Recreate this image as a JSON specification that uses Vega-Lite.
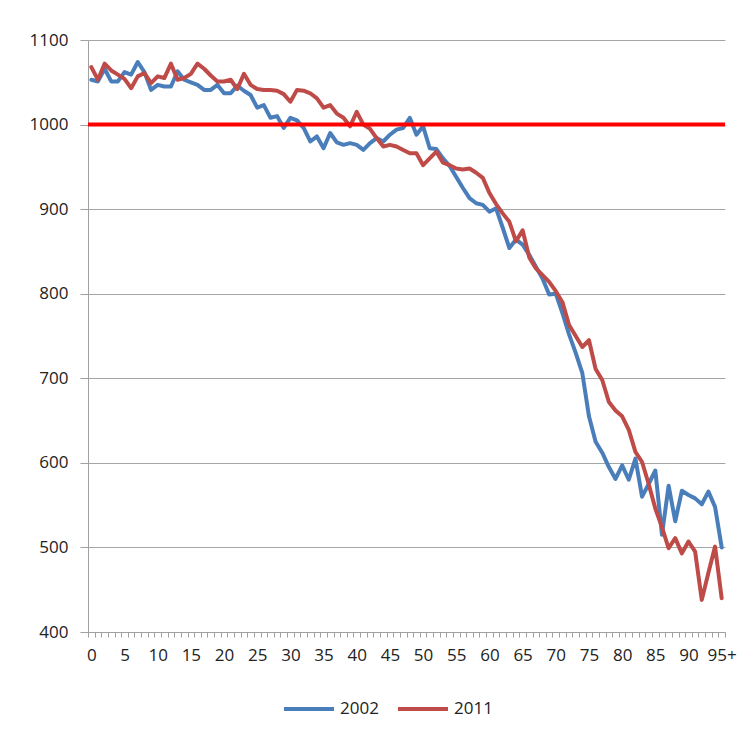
{
  "$schema": "https://vega.github.io/schema/vega-lite/v6.json",
  "width": 637,
  "height": 592,
  "autosize": {"type": "none"},
  "padding": {"left": 88, "top": 40, "right": 29, "bottom": 108},
  "background": "white",
  "config": {"view": {"stroke": null}, "font": "Open Sans"},
  "datasets": {
    "pop": [
      {"age":0,"year":"2002","v":1053},{"age":1,"year":"2002","v":1051},{"age":2,"year":"2002","v":1066},{"age":3,"year":"2002","v":1051},{"age":4,"year":"2002","v":1051},{"age":5,"year":"2002","v":1062},{"age":6,"year":"2002","v":1059},{"age":7,"year":"2002","v":1074},{"age":8,"year":"2002","v":1062},{"age":9,"year":"2002","v":1041},
      {"age":10,"year":"2002","v":1047},{"age":11,"year":"2002","v":1045},{"age":12,"year":"2002","v":1045},{"age":13,"year":"2002","v":1063},{"age":14,"year":"2002","v":1053},{"age":15,"year":"2002","v":1050},{"age":16,"year":"2002","v":1047},{"age":17,"year":"2002","v":1041},{"age":18,"year":"2002","v":1041},{"age":19,"year":"2002","v":1047},
      {"age":20,"year":"2002","v":1037},{"age":21,"year":"2002","v":1037},{"age":22,"year":"2002","v":1046},{"age":23,"year":"2002","v":1040},{"age":24,"year":"2002","v":1035},{"age":25,"year":"2002","v":1020},{"age":26,"year":"2002","v":1023},{"age":27,"year":"2002","v":1008},{"age":28,"year":"2002","v":1010},{"age":29,"year":"2002","v":996},
      {"age":30,"year":"2002","v":1008},{"age":31,"year":"2002","v":1005},{"age":32,"year":"2002","v":996},{"age":33,"year":"2002","v":980},{"age":34,"year":"2002","v":986},{"age":35,"year":"2002","v":972},{"age":36,"year":"2002","v":990},{"age":37,"year":"2002","v":979},{"age":38,"year":"2002","v":976},{"age":39,"year":"2002","v":978},
      {"age":40,"year":"2002","v":976},{"age":41,"year":"2002","v":970},{"age":42,"year":"2002","v":978},{"age":43,"year":"2002","v":984},{"age":44,"year":"2002","v":980},{"age":45,"year":"2002","v":988},{"age":46,"year":"2002","v":994},{"age":47,"year":"2002","v":996},{"age":48,"year":"2002","v":1008},{"age":49,"year":"2002","v":988},
      {"age":50,"year":"2002","v":998},{"age":51,"year":"2002","v":972},{"age":52,"year":"2002","v":971},{"age":53,"year":"2002","v":960},{"age":54,"year":"2002","v":951},{"age":55,"year":"2002","v":938},{"age":56,"year":"2002","v":925},{"age":57,"year":"2002","v":913},{"age":58,"year":"2002","v":907},{"age":59,"year":"2002","v":905},
      {"age":60,"year":"2002","v":897},{"age":61,"year":"2002","v":901},{"age":62,"year":"2002","v":878},{"age":63,"year":"2002","v":854},{"age":64,"year":"2002","v":864},{"age":65,"year":"2002","v":858},{"age":66,"year":"2002","v":846},{"age":67,"year":"2002","v":832},{"age":68,"year":"2002","v":818},{"age":69,"year":"2002","v":799},
      {"age":70,"year":"2002","v":800},{"age":71,"year":"2002","v":777},{"age":72,"year":"2002","v":752},{"age":73,"year":"2002","v":730},{"age":74,"year":"2002","v":706},{"age":75,"year":"2002","v":655},{"age":76,"year":"2002","v":625},{"age":77,"year":"2002","v":612},{"age":78,"year":"2002","v":595},{"age":79,"year":"2002","v":581},
      {"age":80,"year":"2002","v":597},{"age":81,"year":"2002","v":580},{"age":82,"year":"2002","v":605},{"age":83,"year":"2002","v":560},{"age":84,"year":"2002","v":575},{"age":85,"year":"2002","v":591},{"age":86,"year":"2002","v":515},{"age":87,"year":"2002","v":573},{"age":88,"year":"2002","v":531},{"age":89,"year":"2002","v":567},
      {"age":90,"year":"2002","v":562},{"age":91,"year":"2002","v":558},{"age":92,"year":"2002","v":551},{"age":93,"year":"2002","v":566},{"age":94,"year":"2002","v":548},{"age":95,"year":"2002","v":500},
      {"age":0,"year":"2011","v":1068},{"age":1,"year":"2011","v":1053},{"age":2,"year":"2011","v":1072},{"age":3,"year":"2011","v":1064},{"age":4,"year":"2011","v":1059},{"age":5,"year":"2011","v":1054},{"age":6,"year":"2011","v":1043},{"age":7,"year":"2011","v":1057},{"age":8,"year":"2011","v":1061},{"age":9,"year":"2011","v":1049},
      {"age":10,"year":"2011","v":1057},{"age":11,"year":"2011","v":1055},{"age":12,"year":"2011","v":1072},{"age":13,"year":"2011","v":1053},{"age":14,"year":"2011","v":1055},{"age":15,"year":"2011","v":1060},{"age":16,"year":"2011","v":1072},{"age":17,"year":"2011","v":1066},{"age":18,"year":"2011","v":1058},{"age":19,"year":"2011","v":1051},
      {"age":20,"year":"2011","v":1051},{"age":21,"year":"2011","v":1053},{"age":22,"year":"2011","v":1042},{"age":23,"year":"2011","v":1060},{"age":24,"year":"2011","v":1047},{"age":25,"year":"2011","v":1042},{"age":26,"year":"2011","v":1041},{"age":27,"year":"2011","v":1041},{"age":28,"year":"2011","v":1040},{"age":29,"year":"2011","v":1036},
      {"age":30,"year":"2011","v":1027},{"age":31,"year":"2011","v":1041},{"age":32,"year":"2011","v":1040},{"age":33,"year":"2011","v":1037},{"age":34,"year":"2011","v":1031},{"age":35,"year":"2011","v":1020},{"age":36,"year":"2011","v":1023},{"age":37,"year":"2011","v":1013},{"age":38,"year":"2011","v":1008},{"age":39,"year":"2011","v":998},
      {"age":40,"year":"2011","v":1015},{"age":41,"year":"2011","v":1000},{"age":42,"year":"2011","v":995},{"age":43,"year":"2011","v":984},{"age":44,"year":"2011","v":974},{"age":45,"year":"2011","v":976},{"age":46,"year":"2011","v":974},{"age":47,"year":"2011","v":970},{"age":48,"year":"2011","v":966},{"age":49,"year":"2011","v":966},
      {"age":50,"year":"2011","v":952},{"age":51,"year":"2011","v":960},{"age":52,"year":"2011","v":968},{"age":53,"year":"2011","v":955},{"age":54,"year":"2011","v":952},{"age":55,"year":"2011","v":948},{"age":56,"year":"2011","v":947},{"age":57,"year":"2011","v":948},{"age":58,"year":"2011","v":943},{"age":59,"year":"2011","v":937},
      {"age":60,"year":"2011","v":919},{"age":61,"year":"2011","v":906},{"age":62,"year":"2011","v":895},{"age":63,"year":"2011","v":885},{"age":64,"year":"2011","v":862},{"age":65,"year":"2011","v":875},{"age":66,"year":"2011","v":843},{"age":67,"year":"2011","v":830},{"age":68,"year":"2011","v":822},{"age":69,"year":"2011","v":814},
      {"age":70,"year":"2011","v":803},{"age":71,"year":"2011","v":790},{"age":72,"year":"2011","v":763},{"age":73,"year":"2011","v":750},{"age":74,"year":"2011","v":737},{"age":75,"year":"2011","v":745},{"age":76,"year":"2011","v":711},{"age":77,"year":"2011","v":698},{"age":78,"year":"2011","v":672},{"age":79,"year":"2011","v":662},
      {"age":80,"year":"2011","v":655},{"age":81,"year":"2011","v":639},{"age":82,"year":"2011","v":613},{"age":83,"year":"2011","v":601},{"age":84,"year":"2011","v":575},{"age":85,"year":"2011","v":546},{"age":86,"year":"2011","v":524},{"age":87,"year":"2011","v":499},{"age":88,"year":"2011","v":511},{"age":89,"year":"2011","v":493},
      {"age":90,"year":"2011","v":507},{"age":91,"year":"2011","v":495},{"age":92,"year":"2011","v":438},{"age":93,"year":"2011","v":470},{"age":94,"year":"2011","v":501},{"age":95,"year":"2011","v":440}
    ],
    "ref": [{"level": 1000}]
  },
  "layer": [
    {
      "data": {"name": "pop"},
      "mark": {"type": "line", "strokeWidth": 4, "strokeJoin": "round", "strokeCap": "round"},
      "encoding": {
        "x": {
          "field": "age", "type": "ordinal", "bandPosition": 0.5,
          "scale": {"type": "band", "paddingInner": 0, "paddingOuter": 0},
          "axis": {
            "title": null, "labelAngle": 0, "grid": false,
            "labelExpr": "datum.value == 95 ? '95+' : (datum.value % 5 == 0 ? datum.label : '')",
            "tickBand": "extent", "tickSize": 5, "tickColor": "#a0a0a0", "domainColor": "#a0a0a0",
            "labelFontSize": 17, "labelColor": "#222222", "labelPadding": 10, "labelOverlap": false
          }
        },
        "y": {
          "field": "v", "type": "quantitative",
          "scale": {"domain": [400, 1100], "nice": false, "zero": false},
          "axis": {
            "title": null, "values": [400, 500, 600, 700, 800, 900, 1000, 1100], "format": "d",
            "grid": true, "gridColor": "#a6a6a6", "domainColor": "#a0a0a0", "tickColor": "#a0a0a0",
            "tickSize": 8, "labelPadding": 12, "labelFontSize": 17, "labelColor": "#222222"
          }
        },
        "color": {
          "field": "year", "type": "nominal",
          "scale": {"domain": ["2002", "2011"], "range": ["#4a7ebb", "#be4b48"]},
          "legend": {
            "title": null, "orient": "none", "legendX": 194, "legendY": 642, "direction": "horizontal",
            "symbolType": "stroke", "symbolSize": 2500, "symbolStrokeWidth": 4,
            "labelFontSize": 17, "labelColor": "#222222", "columnPadding": 11, "labelOffset": 4
          }
        }
      }
    },
    {
      "data": {"name": "ref"},
      "mark": {"type": "rule", "color": "#ff0000", "strokeWidth": 4},
      "encoding": {"y": {"field": "level", "type": "quantitative"}}
    }
  ]
}
